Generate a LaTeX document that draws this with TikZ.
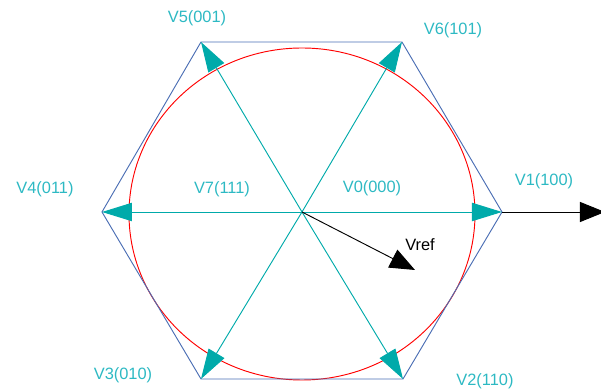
\documentclass[tikz,border=0pt]{standalone}
\usepackage{fontspec}
\setmainfont{Liberation Sans}
\usetikzlibrary{arrows.meta}
\definecolor{vteal}{RGB}{0,170,170}
\definecolor{vlabel}{RGB}{45,185,195}
\definecolor{hexblue}{RGB}{75,110,180}

\begin{document}
\begin{tikzpicture}[x=3cm,y=3cm,
		vec/.style={draw=vteal, line width=0.8pt, -{Triangle[length=0.9cm,width=0.55cm]}},
		blk/.style={draw=black, line width=0.8pt, -{Triangle[length=0.75cm,width=0.6cm]}},
		lab/.style={text=vlabel, font=\fontsize{14}{16}\selectfont, inner sep=0pt}]
		\useasboundingbox (-3.02,-1.78) rectangle (2.99,2.12);
		\coordinate (O) at (0,0);
		\coordinate (v1) at (2,0);
		\coordinate (v6) at (1,1.70);
		\coordinate (v5) at (-1.01,1.70);
		\coordinate (v4) at (-2,0);
		\coordinate (v3) at (-1.01,-1.67);
		\coordinate (v2) at (1.01,-1.67);
		\coordinate (xend) at (3.03,0);
		\coordinate (ref) at (1.13,-0.58);
		\draw[red, line width=0.8pt] (0,-0.02) ellipse [x radius=1.73, y radius=1.66];
		\draw[hexblue, line width=0.8pt] (v1) -- (v6) -- (v5) -- (v4) -- (v3) -- (v2) -- cycle;
		\draw[vec] (O) to (v1);
		\draw[vec] (O) to (v2);
		\draw[vec] (O) to (v3);
		\draw[vec] (O) to (v4);
		\draw[vec] (O) to (v5);
		\draw[vec] (O) to (v6);
		\draw[blk] (v1) to (xend);
		\draw[blk] (O) to (ref);
		\node[lab] (l5) at (-1.05,1.94) {V5(001)};
		\node[lab] (l6) at (1.51,1.82) {V6(101)};
		\node[lab] (l4) at (-2.57,0.23) {V4(011)};
		\node[lab] (l7) at (-0.80,0.23) {V7(111)};
		\node[lab] (l0) at (0.70,0.24) {V0(000)};
		\node[lab] (l1) at (2.42,0.31) {V1(100)};
		\node[lab] (l3) at (-1.79,-1.63) {V3(010)};
		\node[lab] (l2) at (1.83,-1.69) {V2(110)};
		\node[lab, text=black] (lref) at (1.18,-0.33) {Vref};
\end{tikzpicture}
\end{document}
